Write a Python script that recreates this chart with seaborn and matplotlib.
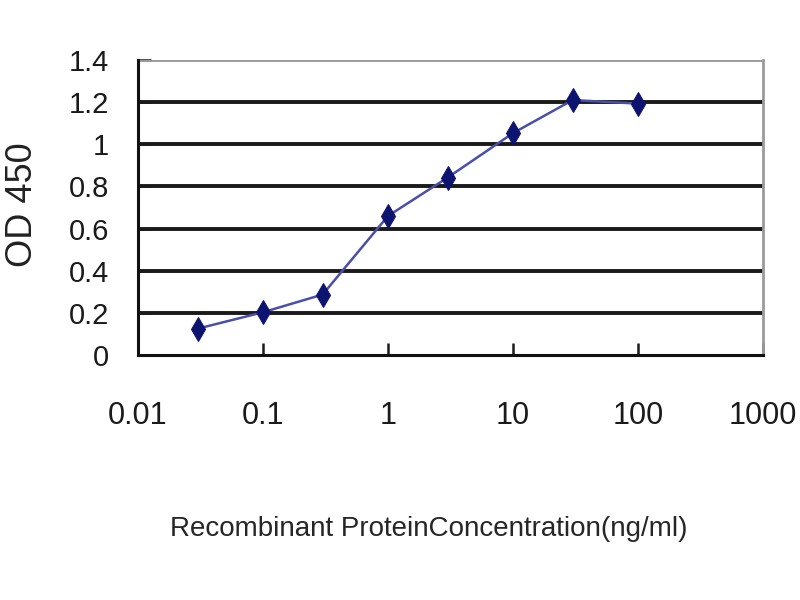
import numpy as np
import pandas as pd
import seaborn as sns
import matplotlib.pyplot as plt

# veri
konsantrasyon = [0.03, 0.1, 0.3, 1, 3, 10, 30, 100]
od450 = [0.125, 0.203, 0.287, 0.66, 0.842, 1.053, 1.21, 1.193]
x_ticks = [0.01, 0.1, 1, 10, 100, 1000]
x_tick_labels = ["0.01", "0.1", "1", "10", "100", "1000"]
y_ticks = [0, 0.2, 0.4, 0.6, 0.8, 1, 1.2, 1.4]
y_tick_labels = ["0", "0.2", "0.4", "0.6", "0.8", "1", "1.2", "1.4"]

veri = pd.DataFrame({"conc": konsantrasyon, "od": od450})

sns.set_style("white")
plt.rcParams["font.family"] = ["Liberation Sans", "DejaVu Sans"]

fig = plt.figure(figsize=(8, 6), dpi=100)
ax = fig.add_axes([0.1725, 0.4083, 0.78125, 0.4917])

# yatay kılavuz çizgileri
for y in y_ticks[1:-1]:
    ax.axhline(y, color="#1a1a1a", linewidth=2.8, zorder=1)
ax.axhline(1.4, color="#9a9a9a", linewidth=2.8, zorder=1)

sns.lineplot(data=veri, x="conc", y="od", ax=ax, color="#4a4fa8", linewidth=1.8,
             marker="d", markersize=12, markerfacecolor="#0d1470",
             markeredgecolor="#0d1470", zorder=3)

ax.set_xscale("log")
ax.set_xlim(0.01, 1000)
ax.set_ylim(0, 1.4)
ax.set_xticks(x_ticks)
ax.set_xticklabels(x_tick_labels, fontsize=22)
ax.minorticks_off()
ax.set_yticks(y_ticks)
ax.set_yticklabels(y_tick_labels, fontsize=21)

ax.tick_params(axis="x", bottom=True, direction="in", length=9, width=1.8, pad=33,
               colors="#1a1a1a")
ax.tick_params(axis="y", left=True, direction="in", length=9, width=1.8, pad=21,
               colors="#1a1a1a")

for side in ["left", "bottom"]:
    ax.spines[side].set_color("#111111")
    ax.spines[side].set_linewidth(2.2)
ax.spines["top"].set_visible(False)
ax.spines["right"].set_color("#9a9a9a")
ax.spines["right"].set_linewidth(2)

ax.set_xlabel("Recombinant ProteinConcentration(ng/ml)", fontsize=20)
ax.xaxis.set_label_coords(0.465, -0.545)
ax.set_ylabel("OD 450", fontsize=26, color="#222222")
ax.yaxis.set_label_coords(-0.157, 0.508)

fig.savefig("out.png", dpi=100)
